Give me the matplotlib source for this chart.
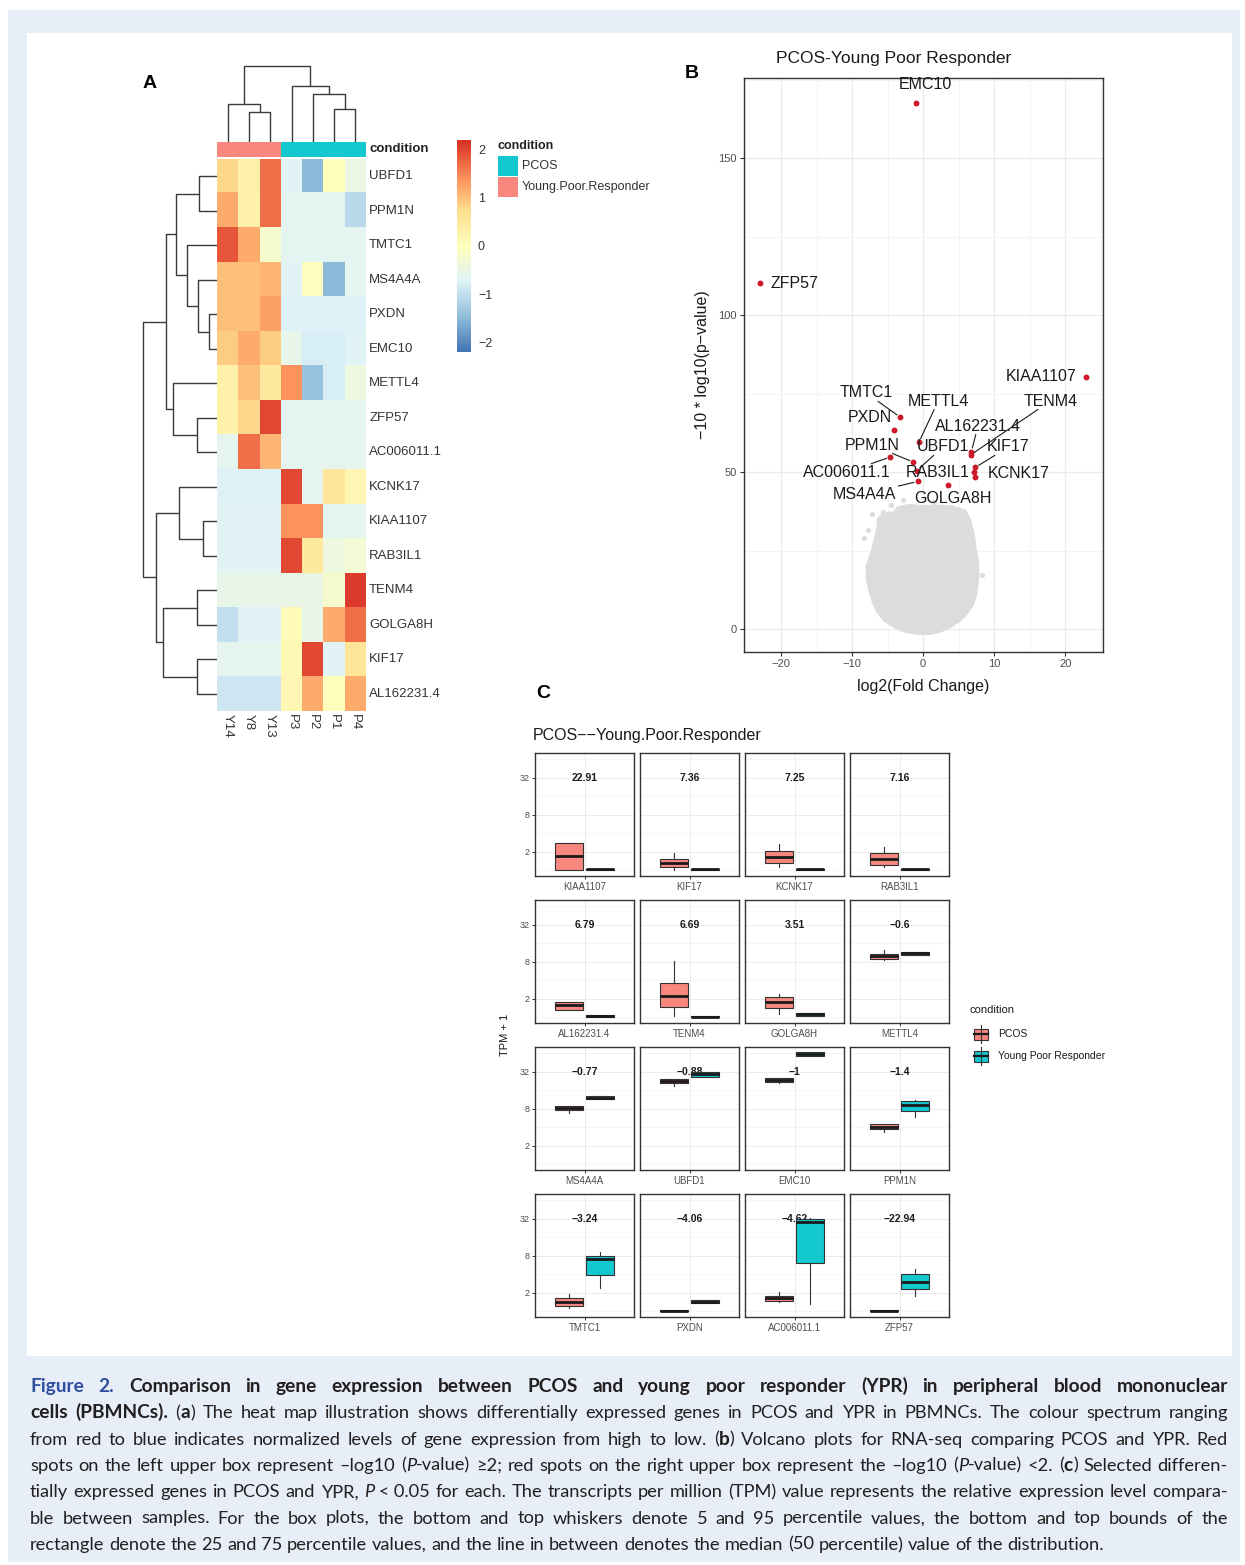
import numpy as np
import matplotlib
matplotlib.use("Agg")
import matplotlib.pyplot as plt
from matplotlib.colors import LinearSegmentedColormap, ListedColormap
from matplotlib.patches import Rectangle
from matplotlib.ticker import FixedLocator, NullFormatter

plt.rcParams["font.family"] = ["Liberation Sans", "DejaVu Sans"]

# ---------------- panel A : heat map ----------------
hm_genes = ["UBFD1", "PPM1N", "TMTC1", "MS4A4A", "PXDN", "EMC10", "METTL4", "ZFP57",
            "AC006011.1", "KCNK17", "KIAA1107", "RAB3IL1", "TENM4", "GOLGA8H", "KIF17",
            "AL162231.4"]
hm_samples = ["Y14", "Y8", "Y13", "P3", "P2", "P1", "P4"]
hm_condition = [1, 1, 1, 0, 0, 0, 0]          # 0 = PCOS, 1 = Young.Poor.Responder
hm_values = [
    [0.8, 0.35, 1.7, -0.7, -1.5, 0.05, -0.45],
    [1.2, 0.3, 1.7, -0.65, -0.65, -0.65, -1.1],
    [1.9, 1.2, -0.2, -0.65, -0.65, -0.65, -0.65],
    [1.0, 1.0, 1.1, -0.7, 0.0, -1.5, -0.65],
    [1.0, 1.0, 1.3, -0.75, -0.75, -0.75, -0.75],
    [0.9, 1.2, 0.9, -0.55, -0.8, -0.8, -0.7],
    [0.3, 1.0, 0.5, 1.4, -1.4, -0.8, -0.4],
    [0.3, 0.8, 2.0, -0.65, -0.65, -0.65, -0.65],
    [-0.6, 1.7, 1.1, -0.6, -0.6, -0.6, -0.6],
    [-0.75, -0.75, -0.75, 2.0, -0.6, 0.6, 0.2],
    [-0.7, -0.7, -0.7, 1.4, 1.4, -0.65, -0.6],
    [-0.7, -0.7, -0.7, 2.0, 0.5, -0.4, -0.3],
    [-0.55, -0.55, -0.55, -0.5, -0.5, -0.2, 2.1],
    [-1.0, -0.7, -0.7, 0.1, -0.55, 1.2, 1.7],
    [-0.6, -0.6, -0.6, 0.15, 2.0, -0.7, 0.6],
    [-0.9, -0.9, -0.9, 0.2, 1.2, 0.05, 1.2],
]
# dendrograms: (node a, node b, height); node ids >= n are earlier merges
row_tree = [(0, 1, 18), (4, 5, 8), (3, 17, 19), (2, 18, 30), (16, 19, 41),
            (7, 8, 20), (6, 21, 44), (20, 22, 51), (10, 11, 14), (9, 24, 38),
            (12, 13, 20), (14, 15, 20), (26, 27, 54), (25, 28, 61), (23, 29, 74)]
col_tree = [(1, 2, 30), (0, 7, 38), (5, 6, 33), (4, 9, 48), (3, 10, 56), (8, 11, 76)]

# ---------------- panel B : volcano ----------------
vol_genes = ["EMC10", "ZFP57", "KIAA1107", "TMTC1", "METTL4", "PXDN", "AL162231.4",
             "TENM4", "PPM1N", "UBFD1", "KIF17", "AC006011.1", "RAB3IL1", "KCNK17",
             "MS4A4A", "GOLGA8H"]
vol_log2fc = [-1.0, -22.94, 22.91, -3.24, -0.6, -4.06, 6.79, 6.69, -1.4, -0.88, 7.36,
              -4.62, 7.16, 7.25, -0.77, 3.51]
vol_score = [167.5, 110.2, 80.3, 67.5, 59.5, 63.5, 56.5, 55.5, 53.2, 50.5, 51.5, 54.8,
             50.0, 48.5, 47.0, 46.0]
# outline of the dense grey cloud of non-significant genes
cloud_x = [1.0, -1.0, -2.8, -4.2, -5.4, -6.3, -6.9, -7.4, -7.8, -7.8, -7.2, -6.7, -6.3,
           -6.2, -5.5, -4.0, -3.5, -2.0, 0.0, 2.0, 4.0, 5.8, 6.5, 7.0, 7.2, 7.6, 7.6,
           7.3, 6.9, 6.0, 5.0, 3.5, 2.2]
cloud_y = [-1.2, -1.2, -0.3, 1.2, 3.0, 5.5, 8.5, 12, 16, 20, 24, 28, 32, 35, 36.5, 37.0,
           38.5, 39.2, 38.8, 39.0, 38.8, 37.5, 34.5, 30, 26, 21, 16, 11, 8, 5, 2.8, 0.6,
           -0.6]
stray_x = [-7.2, -5.6, -7.7, -8.3, 8.3, -2.8, 1.5, -4.5]
stray_y = [36.5, 37.3, 31.5, 29.0, 17.3, 41.0, 40.5, 39.5]

# ---------------- panel C : box plots (TPM + 1) ----------------
box_genes = ["KIAA1107", "KIF17", "KCNK17", "RAB3IL1", "AL162231.4", "TENM4", "GOLGA8H",
             "METTL4", "MS4A4A", "UBFD1", "EMC10", "PPM1N", "TMTC1", "PXDN",
             "AC006011.1", "ZFP57"]
box_fc = ["22.91", "7.36", "7.25", "7.16", "6.79", "6.69", "3.51", "\u22120.6",
          "\u22120.77", "\u22120.88", "\u22121", "\u22121.4", "\u22123.24", "\u22124.06",
          "\u22124.62", "\u221222.94"]
# (whisker low, q1, median, q3, whisker high)
pcos_box = [(1.0, 1.0, 1.72, 2.83, 2.83), (1.0, 1.15, 1.32, 1.52, 1.95),
            (1.15, 1.32, 1.66, 2.07, 2.7), (1.15, 1.23, 1.52, 1.95, 2.44),
            (1.3, 1.34, 1.57, 1.76, 1.8), (1.07, 1.48, 2.2, 3.64, 8.2),
            (1.15, 1.43, 1.76, 2.16, 2.44), (8.5, 9.06, 9.9, 10.8, 12.6),
            (7.0, 7.7, 8.3, 8.9, 9.0), (18.9, 21.0, 22.6, 24.3, 24.5),
            (21.5, 21.7, 23.4, 25.3, 25.5), (3.4, 3.73, 4.1, 4.5, 4.6),
            (1.13, 1.24, 1.43, 1.64, 1.9), (1.0, 1.0, 1.02, 1.05, 1.05),
            (1.45, 1.5, 1.66, 1.8, 2.1), (1.0, 1.0, 1.02, 1.05, 1.05)]
ypr_box = [(1.0, 1.02, 1.04, 1.06, 1.06), (1.0, 1.02, 1.04, 1.06, 1.08),
           (1.0, 1.02, 1.04, 1.06, 1.08), (1.0, 1.02, 1.04, 1.06, 1.08),
           (1.0, 1.0, 1.04, 1.08, 1.08), (1.0, 1.0, 1.03, 1.06, 1.06),
           (1.07, 1.07, 1.12, 1.2, 1.2), (10.2, 10.4, 11.0, 11.6, 11.8),
           (11.5, 11.5, 12.2, 13.0, 13.0), (27.0, 27.0, 29.6, 32.4, 32.4),
           (58.0, 58.0, 62.7, 67.6, 67.6), (6.0, 7.5, 9.3, 10.9, 11.2),
           (2.38, 3.97, 7.2, 7.9, 9.2), (1.37, 1.37, 1.45, 1.54, 1.54),
           (1.33, 6.15, 28.8, 32.0, 33.6), (1.77, 2.32, 3.05, 4.08, 4.9)]

# ---------------- layout helpers (pixel coordinates, y downwards) ----------------
W, H = 1245, 1565
fig = plt.figure(figsize=(W / 100, H / 100), dpi=100)


def px_axes(x0, y0, x1, y1):
    return fig.add_axes([x0 / W, 1 - y1 / H, (x1 - x0) / W, (y1 - y0) / H])


def ftext(x, y, s, **kw):
    return fig.text(x / W, 1 - y / H, s, **kw)


def draw_tree(ax, tree, n, top):
    pos = {i: float(i) for i in range(n)}
    hgt = {i: 0.0 for i in range(n)}
    for k, (a, b, h) in enumerate(tree):
        xs = [pos[a], pos[a], pos[b], pos[b]]
        ys = [hgt[a], h, h, hgt[b]]
        if top:
            ax.plot(xs, ys, color="#3a3a3a", lw=1.0, solid_capstyle="butt")
        else:
            ax.plot(ys, xs, color="#3a3a3a", lw=1.0, solid_capstyle="butt")
        pos[n + k] = (pos[a] + pos[b]) / 2
        hgt[n + k] = h


# background frame
bg = fig.add_axes([0, 0, 1, 1])
bg.set_xlim(0, W)
bg.set_ylim(H, 0)
bg.axis("off")
bg.add_patch(Rectangle((8, 10), 1232, 1552, color="#e7eef8", lw=0))
bg.add_patch(Rectangle((27, 33), 1205, 1323, color="white", lw=0))

salmon, cyan = "#F7877F", "#14C8D0"

# ---------------- panel A ----------------
hm_cmap = LinearSegmentedColormap.from_list(
    "rdylbu", ["#4575B4", "#91BFDB", "#E0F3F8", "#FFFFBF", "#FEE090", "#FC8D59", "#D73027"])

ax_hm = px_axes(217, 159, 366, 711)
ax_hm.imshow(np.array(hm_values), cmap=hm_cmap, vmin=-2.2, vmax=2.2, aspect="auto",
             interpolation="nearest")
ax_hm.axis("off")
for i, g in enumerate(hm_genes):
    ax_hm.text(6.65, i, g, ha="left", va="center", fontsize=9.5, color="#333333")
for j, s in enumerate(hm_samples):
    ax_hm.text(j, 15.6, s, ha="center", va="top", rotation=270, fontsize=9.5,
               color="#333333")

ax_cond = px_axes(217, 142, 366, 157)
ax_cond.imshow([hm_condition], cmap=ListedColormap([cyan, salmon]), aspect="auto",
               vmin=0, vmax=1, interpolation="nearest")
ax_cond.axis("off")
ftext(369, 149, "condition", fontsize=9.5, fontweight="bold", va="center", color="#222222")

ax_cd = px_axes(217, 60, 366, 142)
draw_tree(ax_cd, col_tree, len(hm_samples), top=True)
ax_cd.set_xlim(-0.5, 6.5)
ax_cd.set_ylim(0, 82)
ax_cd.axis("off")

ax_rd = px_axes(140, 159, 217, 711)
draw_tree(ax_rd, row_tree, len(hm_genes), top=False)
ax_rd.set_ylim(15.5, -0.5)
ax_rd.set_xlim(77, 0)
ax_rd.axis("off")

ax_cb = px_axes(457, 140, 471, 352)
grad = np.linspace(-2.2, 2.2, 200).reshape(-1, 1)
ax_cb.imshow(grad, cmap=hm_cmap, origin="lower", extent=[0, 1, -2.2, 2.2], aspect="auto")
ax_cb.set_ylim(-2.2, 2.2)
ax_cb.set_xticks([])
ax_cb.yaxis.tick_right()
ax_cb.set_yticks([-2, -1, 0, 1, 2])
ax_cb.set_yticklabels(["\u22122", "\u22121", "0", "1", "2"])
ax_cb.tick_params(axis="y", length=0, pad=5, labelsize=9, labelcolor="#333333")
for sp in ax_cb.spines.values():
    sp.set_visible(False)

ftext(498, 146, "condition", fontsize=9, fontweight="bold", va="center", color="#222222")
bg.add_patch(Rectangle((498, 156), 20, 20, color=cyan, lw=0))
bg.add_patch(Rectangle((498, 177), 20, 20, color=salmon, lw=0))
ftext(522, 166, "PCOS", fontsize=9, va="center", color="#333333")
ftext(522, 187, "Young.Poor.Responder", fontsize=9, va="center", color="#333333")

ftext(150, 84, "A", fontsize=14, fontweight="bold", ha="center", va="center")

# ---------------- panel B ----------------
ax_v = px_axes(744, 78, 1103, 652)
ax_v.set_xlim(-25.2, 25.3)
ax_v.set_ylim(-7.3, 175.5)
ax_v.fill(cloud_x, cloud_y, color="#dcdcdc", ec="#dcdcdc", lw=3, zorder=2)
ax_v.scatter(stray_x, stray_y, s=14, color="#dcdcdc", lw=0, zorder=2)
ax_v.scatter(vol_log2fc, vol_score, s=18, color="#cc1a2b", lw=0, zorder=3)

label_pos = {
    "EMC10": (0.3, 173.5), "ZFP57": (-18.1, 110.2), "KIAA1107": (16.6, 80.3),
    "TMTC1": (-8.0, 75.2), "METTL4": (2.1, 72.6), "PXDN": (-7.5, 67.5),
    "AL162231.4": (7.7, 64.6), "TENM4": (17.9, 72.6), "PPM1N": (-7.2, 58.6),
    "UBFD1": (2.8, 58.0), "KIF17": (12.0, 58.0), "AC006011.1": (-10.7, 50.0),
    "RAB3IL1": (2.0, 50.0), "KCNK17": (13.4, 49.4), "MS4A4A": (-8.2, 43.0),
    "GOLGA8H": (4.2, 41.7),
}
vol_texts = []
for g, fx, sc in zip(vol_genes, vol_log2fc, vol_score):
    lx, ly = label_pos[g]
    t = ax_v.text(lx, ly, g, ha="center", va="center", fontsize=11.5, color="#1a1a1a",
                  zorder=4)
    vol_texts.append((t, fx, sc))

ax_v.set_xticks([-20, -10, 0, 10, 20])
ax_v.set_xticklabels(["\u221220", "\u221210", "0", "10", "20"])
ax_v.set_yticks([0, 50, 100, 150])
ax_v.xaxis.set_minor_locator(FixedLocator([-25, -15, -5, 5, 15, 25]))
ax_v.yaxis.set_minor_locator(FixedLocator([25, 75, 125, 175]))
ax_v.grid(which="major", color="#ebebeb", lw=0.9)
ax_v.grid(which="minor", color="#f3f3f3", lw=0.6)
ax_v.set_axisbelow(True)
ax_v.tick_params(which="major", length=3, width=0.8, color="#333333", labelsize=8,
                 labelcolor="#4d4d4d", pad=2)
ax_v.tick_params(which="minor", length=0)
for sp in ax_v.spines.values():
    sp.set_color("#333333")
    sp.set_linewidth(1.0)

ftext(894, 59, "PCOS-Young Poor Responder", fontsize=12.5, ha="center", va="center",
      color="#1a1a1a")
ftext(923, 687, "log2(Fold Change)", fontsize=11.5, ha="center", va="center",
      color="#1a1a1a")
ftext(703, 365, "\u221210 * log10(p\u2212value)", fontsize=11.5, rotation=90, ha="center",
      va="center", color="#1a1a1a")
ftext(692, 74, "B", fontsize=14, fontweight="bold", ha="center", va="center")

# ---------------- panel C ----------------
lo_lim, hi_lim = 2 ** -0.30, 2 ** 6.35
for i, g in enumerate(box_genes):
    r, c = divmod(i, 4)
    x0 = 535 + c * 105
    y0 = 753 + r * 147
    ax = px_axes(x0, y0, x0 + 99, y0 + 123)
    stats = []
    for vals in (pcos_box[i], ypr_box[i]):
        lo, q1, med, q3, hi = vals
        stats.append(dict(whislo=lo, q1=q1, med=med, q3=q3, whishi=hi, fliers=[]))
    ax.text(1, 32, box_fc[i], ha="center", va="center", fontsize=7.5, fontweight="bold",
            color="#1a1a1a", zorder=1)
    res = ax.bxp(stats, positions=[0.81, 1.19], widths=0.34, patch_artist=True,
                 showcaps=False, showfliers=False,
                 boxprops=dict(edgecolor="#333333", linewidth=0.8),
                 medianprops=dict(color="#1a1a1a", linewidth=2.0),
                 whiskerprops=dict(color="#333333", linewidth=0.8), zorder=3)
    res["boxes"][0].set_facecolor(salmon)
    res["boxes"][1].set_facecolor(cyan)
    ax.set_yscale("log", base=2)
    ax.set_ylim(lo_lim, hi_lim)
    ax.set_xlim(0.4, 1.6)
    ax.set_xticks([1])
    ax.set_xticklabels([g])
    ax.set_yticks([2, 8, 32])
    ax.yaxis.set_minor_locator(FixedLocator([1, 4, 16, 64]))
    ax.yaxis.set_minor_formatter(NullFormatter())
    if c == 0:
        ax.set_yticklabels(["2", "8", "32"])
        ax.tick_params(axis="y", which="major", length=2.5, width=0.7, color="#333333",
                       labelsize=6.5, labelcolor="#4d4d4d", pad=1.5)
    else:
        ax.set_yticklabels([])
        ax.tick_params(axis="y", which="major", length=0)
    ax.tick_params(axis="y", which="minor", length=0)
    ax.tick_params(axis="x", length=2.5, width=0.7, color="#333333", labelsize=7,
                   labelcolor="#4d4d4d", pad=1.5)
    ax.grid(which="major", color="#ebebeb", lw=0.7)
    ax.grid(which="minor", axis="y", color="#f3f3f3", lw=0.5)
    ax.set_axisbelow(True)
    for sp in ax.spines.values():
        sp.set_color("#333333")
        sp.set_linewidth(1.0)

ftext(533, 736, "PCOS\u2212\u2212Young.Poor.Responder", fontsize=11.5, va="center",
      color="#1a1a1a")
ftext(505, 1035, "TPM + 1", fontsize=8, rotation=90, ha="center", va="center",
      color="#1a1a1a")
ftext(543, 693, "C", fontsize=14, fontweight="bold", ha="center", va="center")

ftext(970, 1010, "condition", fontsize=8, va="center", color="#1a1a1a")
for k, (lab, col) in enumerate([("PCOS", salmon), ("Young Poor Responder", cyan)]):
    yc = 1034 + k * 22
    bg.plot([981, 981], [yc - 9, yc + 9], color="#333333", lw=0.8)
    bg.add_patch(Rectangle((974, yc - 5.5), 14, 11, facecolor=col, edgecolor="#333333",
                           lw=0.8))
    bg.plot([974, 988], [yc, yc], color="#1a1a1a", lw=1.6)
    ftext(998, yc, lab, fontsize=7.5, va="center", color="#1a1a1a")

# ---------------- caption (justified) ----------------
cap_lines = [
    [("Figure 2.", "f"), (" Comparison in gene expression between PCOS and young poor "
                          "responder (YPR) in peripheral blood mononuclear", "b")],
    [("cells (PBMNCs).", "b"), (" (", "n"), ("a", "b"),
     (") The heat map illustration shows differentially expressed genes in PCOS and YPR in "
      "PBMNCs. The colour spectrum ranging", "n")],
    [("from red to blue indicates normalized levels of gene expression from high to low. (",
      "n"), ("b", "b"), (") Volcano plots for RNA-seq comparing PCOS and YPR. Red", "n")],
    [("spots on the left upper box represent \u2013log10 (", "n"), ("P", "i"),
     ("-value) \u22652; red spots on the right upper box represent the \u2013log10 (", "n"),
     ("P", "i"), ("-value) <2. (", "n"), ("c", "b"), (") Selected differen-", "n")],
    [("tially expressed genes in PCOS and YPR, ", "n"), ("P", "i"),
     ("\u00a0<\u00a00.05 for each. The transcripts per million (TPM) value represents the "
      "relative expression level compara-", "n")],
    [("ble between samples. For the box plots, the bottom and top whiskers denote 5 and 95 "
      "percentile values, the bottom and top bounds of the", "n")],
    [("rectangle denote the 25 and 75 percentile values, and the line in between denotes "
      "the median (50 percentile) value of the distribution.", "n")],
]
cap_x0, cap_x1 = 30, 1228
cap_y0, cap_dy = 1392, 26.3


def cap_props(st, sizes):
    size_n, size_b = sizes
    d = dict(fontsize=size_n, family=["Lato", "DejaVu Sans"], color="#231f20")
    if st in "bf":
        d["fontweight"] = "bold"
        d["fontsize"] = size_b
    if st == "i":
        d["fontstyle"] = "italic"
    if st == "f":
        d["color"] = "#2f4f9f"
    return d


def split_words(segs):
    words = [[]]
    for txt, st in segs:
        parts = txt.split(" ")
        for k, p in enumerate(parts):
            if k > 0:
                words.append([])
            if p:
                words[-1].append((p, st))
    return [w for w in words if w]


fig.canvas.draw()
rend = fig.canvas.get_renderer()

# leader lines for volcano labels that sit away from their point (ggrepel style)
inv = ax_v.transData.inverted()
for t, fx, sc in vol_texts:
    bb = t.get_window_extent(rend)
    px, py = ax_v.transData.transform((fx, sc))
    cx, cy = (bb.x0 + bb.x1) / 2, (bb.y0 + bb.y1) / 2
    dx, dy = px - cx, py - cy
    hw, hh = bb.width / 2 + 2, bb.height / 2 + 1
    s = min(hw / abs(dx) if dx else np.inf, hh / abs(dy) if dy else np.inf)
    if s >= 1:
        continue
    sx, sy = cx + dx * s, cy + dy * s
    seg = np.hypot(px - sx, py - sy)
    if seg < 12:
        continue
    ex, ey = px - (px - sx) / seg * 4, py - (py - sy) / seg * 4
    pts = inv.transform([(sx, sy), (ex, ey)])
    ax_v.plot(pts[:, 0], pts[:, 1], color="#1a1a1a", lw=0.8, zorder=4)


def text_w(s, props):
    t = fig.text(0, 0, s, **props)
    w = t.get_window_extent(rend).width
    t.remove()
    return w


line_words = [split_words(l) for l in cap_lines]
base = (10.0, 10.0)
sp_base = text_w("x x", cap_props("n", base)) - text_w("xx", cap_props("n", base))
nat = []
for words in line_words[:-1]:
    tot = sum(text_w(p, cap_props(st, base)) for w in words for p, st in w)
    nat.append(tot + sp_base * (len(words) - 1))
target = cap_x1 - cap_x0
size_n = 10.0 * target / max(nat[2:]) * 0.985
size_b = min(10.0 * target / nat[0] * 0.975, size_n * 1.05)
sizes = (size_n, size_b)
space = text_w("x x", cap_props("n", sizes)) - text_w("xx", cap_props("n", sizes))

for li, words in enumerate(line_words):
    widths = [[text_w(p, cap_props(st, sizes)) for p, st in w] for w in words]
    tot = sum(sum(ws) for ws in widths)
    if li < len(line_words) - 1:
        gap = (target - tot) / (len(words) - 1)
    else:
        gap = space
    x = cap_x0
    y = cap_y0 + li * cap_dy
    for w, ws in zip(words, widths):
        for (p, st), pw in zip(w, ws):
            ftext(x, y, p, ha="left", va="baseline", **cap_props(st, sizes))
            x += pw
        x += gap

fig.savefig("out.png", dpi=100)
